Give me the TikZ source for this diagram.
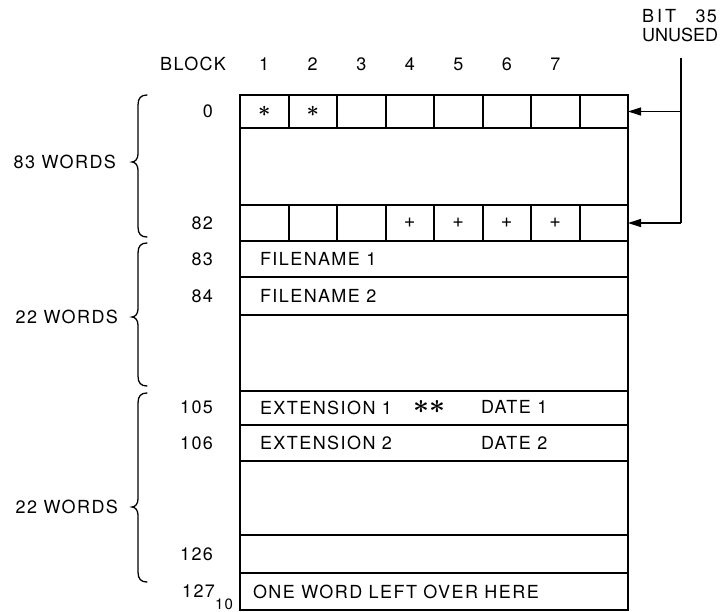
\documentclass[tikz,border=0pt]{standalone}
\usepackage{fontspec}
\setmainfont{TeX Gyre Heros}[LetterSpace=8]
\usetikzlibrary{arrows.meta}
\begin{document}
\begin{tikzpicture}[x=1pt,y=-1pt,
  every node/.style={font=\fontsize{18}{20}\selectfont, inner sep=0pt, outer sep=0pt},
  cellbox/.style={draw, line width=2pt, minimum width=48.5pt, anchor=north west},
  rowbox/.style={draw, line width=2pt, minimum width=388pt, anchor=north west},
  conn/.style={line width=1.2pt},
  tip/.style={-{Triangle[length=13pt,width=8pt]}},
  bracepath/.style={line width=1.3pt, line cap=round}]
\useasboundingbox (0,0) rectangle (720,611);
% outer memory box
\node[draw, line width=2.5pt, minimum width=388pt, minimum height=515pt, anchor=north west] (mem) at (240,95) {};
% row 0 cells
\foreach \i in {1,...,8} {
  \node[cellbox, minimum height=33pt] (c0-\i) at ({240+48.5*(\i-1)},95) {};
}
\node at (c0-1.center) {\scalebox{1.25}{\boldmath$\ast$}};
\node at (c0-2.center) {\scalebox{1.25}{\boldmath$\ast$}};
% row 82 cells
\foreach \i in {1,...,8} {
  \node[cellbox, minimum height=36pt] (c82-\i) at ({240+48.5*(\i-1)},205) {};
}
\foreach \i in {4,...,7} { \node at (c82-\i.center) {\scalebox{1.1}{+}}; }
% other rows
\node[rowbox, minimum height=36pt] (r83) at (240,241) {};
\node[rowbox, minimum height=38pt] (r84) at (240,277) {};
\node[rowbox, minimum height=34pt] (r105) at (240,391) {};
\node[rowbox, minimum height=36pt] (r106) at (240,425) {};
\node[rowbox, minimum height=38pt] (r126) at (240,535) {};
\node[rowbox, minimum height=37pt] (r127) at (240,573) {};
% row texts
\node[anchor=west] (t83) at ([xshift=20pt]r83.west) {FILENAME 1};
\node[anchor=west] (t84) at ([xshift=20pt]r84.west) {FILENAME 2};
\node[anchor=west] (t105) at ([xshift=20pt]r105.west) {EXTENSION 1};
\node (s105) at (429,407) {\scalebox{1.6}{\boldmath$\ast\ast$}};
\node[anchor=west] (d105) at (481,407) {DATE 1};
\node[anchor=west] (t106) at ([xshift=20pt]r106.west) {EXTENSION 2};
\node[anchor=west] (d106) at (481,443) {DATE 2};
\node[anchor=west] (t127) at ([xshift=13pt]r127.west) {ONE WORD LEFT OVER HERE};
% header
\coordinate (hdr) at (0,64);
\node[anchor=east] (block) at (226,64) {BLOCK};
\foreach \i in {1,...,7} { \node (h\i) at (c0-\i |- hdr) {\i}; }
% row labels
\node[anchor=east] (l0) at (213,111.5) {0};
\node[anchor=east] (l82) at (213,223) {82};
\node[anchor=east] (l83) at (213,259) {83};
\node[anchor=east] (l84) at (213,296) {84};
\node[anchor=east] (l105) at (213,407) {105};
\node[anchor=east] (l106) at (213,443) {106};
\node[anchor=east] (l126) at (213,554) {126};
\node[anchor=east] (l127) at (215,591) {127};
\node[anchor=north west, font=\fontsize{15}{17}\selectfont] (l127s) at ([yshift=-1pt]l127.south east) {10};
% bit 35 annotation
\node[align=left, anchor=east] (bit) at (718,25.5) {\makebox[75pt][s]{B\hspace{3pt}I\hspace{3pt}T\hfill 35}\\[-1pt]{\addfontfeature{LetterSpace=0}UNUSED}};
\coordinate (vtop) at ([xshift=1pt,yshift=-16pt]bit.south);
\coordinate (v0) at (vtop |- c0-8.east);
\coordinate (v82) at (vtop |- c82-8.east);
\draw[conn] (vtop) -- (v82);
\draw[conn, tip] (v0) -- (c0-8.east);
\draw[conn, tip] (v82) -- (c82-8.east);
% braces and labels
\foreach \t/\m/\b in {95/162/237, 243/317/386, 393/507/582} {
  \draw[bracepath] (147,\t) .. controls (141,\t) and (138,\t+3) .. (138,\t+10)
     -- (138,\m-8) .. controls (138,\m-3) and (135,\m) .. (132,\m)
     .. controls (135,\m) and (138,\m+3) .. (138,\m+8)
     -- (138,\b-10) .. controls (138,\b-3) and (141,\b) .. (147,\b);
}
\node[anchor=east] (w83) at (116,162) {83 WORDS};
\node[anchor=east] (w22a) at (118,317) {22 WORDS};
\node[anchor=east] (w22b) at (118,507) {22 WORDS};
\end{tikzpicture}
\end{document}
